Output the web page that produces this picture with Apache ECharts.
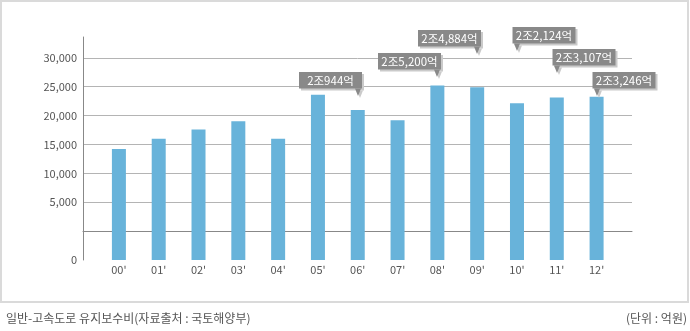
<!DOCTYPE html>
<html>
<head>
<meta charset="utf-8">
<script src="https://cdn.jsdelivr.net/npm/echarts@6/dist/echarts.min.js"></script>
<style>
  html, body { margin: 0; padding: 0; background: #fff; }
  #chart { width: 690px; height: 331px; }
</style>
</head>
<body>
<div id="chart"></div>
<script>
// Highway maintenance spending by year (unit: 억원)
const years = ["00'", "01'", "02'", "03'", "04'", "05'", "06'", "07'", "08'", "09'", "10'", "11'", "12'"];
const spending = [14200, 16000, 17600, 19000, 16000, 23600, 20944, 19200, 25200, 24884, 22124, 23107, 23246];

// Years that carry a value callout
const calloutYears = ["06'", "08'", "09'", "10'", "11'", "12'"];

// Value axis tick values (the lowest tick is printed as "0")
const axisFloor = -5000;
const axisTop = 33600;
const tickStep = 5000;
const tickMaxLabel = 30000;

const footNote = '일반-고속도로 유지보수비(자료출처 : 국토해양부)';
const unitNote = '(단위 : 억원)';

// Callout placement: pixel gap between pointer tip and bar top, and which way the box extends
const calloutLift = [14, 9, 33, 52, 25, 1];
const calloutSide = ['left', 'left', 'left', 'right', 'right', 'right'];

const FONT = '"Noto Sans CJK KR", "Noto Sans", sans-serif';

function formatEok(v) {
  const jo = Math.floor(v / 10000);
  const rest = v % 10000;
  return jo + '조' + rest.toLocaleString('en-US') + '억';
}

const calloutData = calloutYears.map(function (y) {
  const i = years.indexOf(y);
  return [i, spending[i]];
});

const chart = echarts.init(document.getElementById('chart'), null, { renderer: 'canvas' });

const gridTop = 37;
const gridBottom = 71;

chart.setOption({
  animation: false,
  backgroundColor: '#fff',
  grid: [
    { left: 83, right: 58, top: gridTop, bottom: gridBottom },
    { left: 99, right: 73.5, top: gridTop, bottom: gridBottom }
  ],
  xAxis: [
    {
      gridIndex: 0, type: 'category', data: years,
      axisLine: { show: true, lineStyle: { color: '#888', width: 1 } },
      axisTick: { show: false }, axisLabel: { show: false }, splitLine: { show: false }
    },
    {
      gridIndex: 1, type: 'category', data: years,
      axisLine: { show: false }, axisTick: { show: false },
      axisLabel: { color: '#555', fontSize: 11, fontFamily: FONT, margin: 4 }
    }
  ],
  yAxis: [
    {
      gridIndex: 0, type: 'value', min: axisFloor, max: axisTop, interval: tickStep,
      axisLine: { show: true, lineStyle: { color: '#888', width: 1 } },
      axisTick: { show: false },
      axisLabel: {
        color: '#555', fontSize: 11, fontFamily: FONT, margin: 6,
        formatter: function (v) {
          if (v === axisFloor) return '0';
          if (v === 0 || v > tickMaxLabel) return '';
          return v.toLocaleString('en-US');
        }
      },
      splitLine: { show: true, showMinLine: false, showMaxLine: false, lineStyle: { color: '#b4b4b4', width: 1 } }
    },
    {
      gridIndex: 1, type: 'value', min: axisFloor, max: axisTop, interval: tickStep,
      startValue: axisFloor, show: false, splitLine: { show: false }
    }
  ],
  series: [
    {
      type: 'bar', xAxisIndex: 1, yAxisIndex: 1,
      data: spending, barWidth: 14,
      itemStyle: { color: '#68b3da' }
    },
    {
      type: 'custom', xAxisIndex: 1, yAxisIndex: 1, z: 10, clip: false,
      data: calloutData,
      renderItem: function (params, api) {
        const i = params.dataIndex;
        const top = api.coord([api.value(0), api.value(1)]);
        const tipX = Math.round(top[0]);
        const tipY = Math.round(top[1] - calloutLift[i]);
        const w = 63, h = 16.5, ph = 7.5;
        const boxBottom = tipY - ph;
        const boxLeft = calloutSide[i] === 'left' ? tipX + 4 - w : tipX - 4.5;
        const boxTop = boxBottom - h;
        const pointer = [[tipX - 3, boxBottom], [tipX + 3, boxBottom], [tipX, tipY]];
        const shadowPointer = pointer.map(function (p) { return [p[0] + 2, p[1] + 2]; });
        return {
          type: 'group',
          children: [
            { type: 'rect', shape: { x: boxLeft + 2, y: boxTop + 2, width: w, height: h }, style: { fill: '#cacaca' } },
            { type: 'polygon', shape: { points: shadowPointer }, style: { fill: '#cacaca' } },
            { type: 'rect', shape: { x: boxLeft, y: boxTop, width: w, height: h }, style: { fill: '#898989' } },
            { type: 'polygon', shape: { points: pointer }, style: { fill: '#898989' } },
            {
              type: 'text',
              style: {
                x: boxLeft + w / 2, y: boxTop + h / 2 + 0.5,
                text: formatEok(api.value(1)),
                fill: '#fff', fontSize: 11.5, fontFamily: FONT,
                align: 'center', verticalAlign: 'middle'
              }
            }
          ]
        };
      }
    }
  ],
  graphic: [
    {
      type: 'rect', silent: true, z: -1,
      shape: { x: 1, y: 1, width: 687, height: 301 },
      style: { fill: 'none', stroke: '#dadada', lineWidth: 2 }
    },
    {
      type: 'text', left: 6, top: 312,
      style: { text: footNote, fill: '#555', fontSize: 12, fontFamily: FONT }
    },
    {
      type: 'text', right: 3, top: 312,
      style: { text: unitNote, fill: '#555', fontSize: 12, fontFamily: FONT }
    }
  ]
});
</script>
</body>
</html>
